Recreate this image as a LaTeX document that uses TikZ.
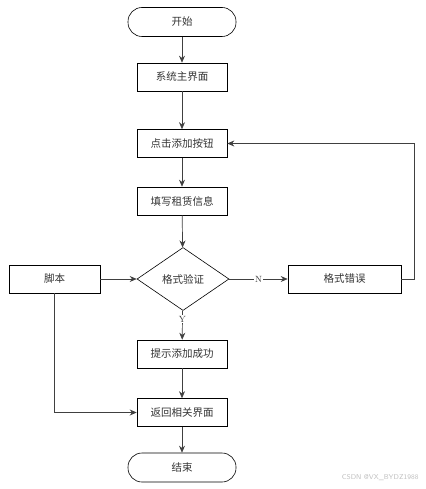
\documentclass[tikz,border=0pt]{standalone}
\usepackage{fontspec}
\newfontfamily\cjk{Noto Sans CJK SC}
\usetikzlibrary{arrows.meta,
  positioning,
  shapes
}

\begin{document}
\begin{tikzpicture}[x=1pt, y=-1pt,
  every node/.style={font=\cjk\fontsize{10.5}{12}\selectfont, text=black!80},
  procbox/.style={draw, line width=0.6, minimum width=90pt, minimum height=28pt, inner sep=0pt},
  termbox/.style={draw, line width=0.6, rounded corners=14pt, minimum width=108pt, minimum height=29pt, inner sep=0pt},
  checkbox/.style={draw, diamond, aspect=1.46, line width=0.6, minimum width=92pt, minimum height=63pt, inner sep=0pt},
  flow/.style={-{Stealth[length=7pt, width=6pt]}, line width=0.7, black!75},
  tag/.style={fill=white, inner sep=1pt, font=\rmfamily\fontsize{9}{10}\selectfont}
  ]

  \useasboundingbox (0, 0) rectangle (425, 489);

  \node[termbox] (Start) at (182, 22) {开始};
  \node[procbox] (MainUI) at (182, 77) {系统主界面};
  \node[procbox] (ClickAdd) at (182, 143.5) {点击添加按钮};
  \node[procbox] (FillInfo) at (182, 201) {填写租赁信息};
  \node[checkbox] (Check) at (183, 279) {格式验证};
  \node[procbox, minimum width=91pt] (Script) at (54.5, 279) {脚本};
  \node[procbox, minimum width=113pt] (FormatErr) at (344.5, 279) {格式错误};
  \node[procbox] (AddOk) at (182, 354) {提示添加成功};
  \node[procbox] (Back) at (182, 412.5) {返回相关界面};
  \node[termbox] (End) at (182, 467.5) {结束};

  \draw[flow] (Start) -- (MainUI);
  \draw[flow] (MainUI) -- (ClickAdd);
  \draw[flow] (ClickAdd) -- (FillInfo);
  \draw[flow] (FillInfo) -- (Check);
  \draw[flow] (Script) -- (Check.west);
  \draw[flow] (Check.east) -- node[tag] {N} (FormatErr);
  \draw[flow] (FormatErr.east) -- ++(13, 0) |- (ClickAdd.east);
  \draw[flow] (Check) -- node[tag, pos=0.3] {Y} (AddOk);
  \draw[flow] (AddOk) -- (Back);
  \draw[flow] (Script.south) |- (Back.west);
  \draw[flow] (Back) -- (End);

  \node[font=\sffamily\fontsize{7}{8}\selectfont, text=black!25, anchor=east] (Mark) at (422, 478) {CSDN @VX\_BYDZ1988};
\end{tikzpicture}
\end{document}
